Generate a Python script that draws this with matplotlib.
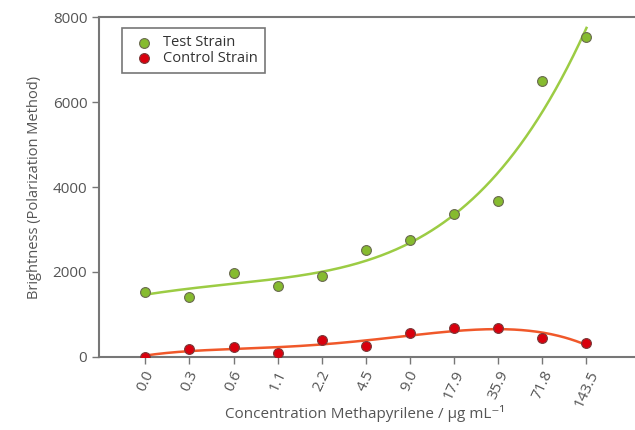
import numpy as np
import matplotlib
matplotlib.use('Agg')
import matplotlib.pyplot as plt

plt.rcParams['font.family'] = ['Open Sans', 'DejaVu Sans']

# concentrations (categorical axis)
conc_labels = ['0.0', '0.3', '0.6', '1.1', '2.2', '4.5', '9.0', '17.9', '35.9', '71.8', '143.5']
test_strain = [1530, 1410, 1980, 1670, 1900, 2520, 2750, 3360, 3670, 6490, 7530]
control_strain = [0, 190, 240, 90, 400, 260, 560, 680, 680, 450, 330]

x = np.arange(len(conc_labels))

# smooth trend lines (polynomial fit on index)
xs = np.linspace(0, len(conc_labels) - 1, 300)
test_fit = np.polyval(np.polyfit(x, test_strain, 4), xs)
ctrl_fit = np.polyval(np.polyfit(x, control_strain, 4), xs)

grey = '#555555'
fig = plt.figure(figsize=(6.35, 4.3), dpi=100)
ax = fig.add_axes([0.156, 0.17, 0.844, 0.79])

ax.plot(xs, test_fit, color='#9ccc44', lw=1.8, zorder=2)
ax.plot(xs, ctrl_fit, color='#f0582a', lw=1.8, zorder=2)
ax.scatter(x, test_strain, s=50, color='#86bb2f', edgecolors='#6a6a50', linewidths=0.8,
           zorder=3, label='Test Strain')
ax.scatter(x, control_strain, s=50, color='#d9000d', edgecolors='#7a3a3a', linewidths=0.8,
           zorder=3, label='Control Strain')

ax.set_xlim(-1.05, 11.1)
ax.set_ylim(0, 8000)
ax.set_yticks([0, 2000, 4000, 6000, 8000])
ax.set_xticks(x)
ax.set_xticklabels(conc_labels, rotation=65, ha='center', va='top')

for s in ['top', 'bottom', 'left']:
    ax.spines[s].set_color('#777777')
    ax.spines[s].set_linewidth(1.5)
ax.spines['right'].set_visible(False)
ax.tick_params(colors='#777777', labelcolor=grey, labelsize=11, direction='out', length=5, width=1)
ax.tick_params(axis='x', pad=3)

ax.set_ylabel('Brightness (Polarization Method)', color=grey, fontsize=10.5, labelpad=8)
fig.text(365 / 635, 1 - 413 / 430, 'Concentration Methapyrilene / µg mL⁻¹', color=grey,
         fontsize=11, ha='center', va='center')

leg = ax.legend(loc='upper left', bbox_to_anchor=(0.043, 0.968), frameon=True, fancybox=False,
                edgecolor='#555555', fontsize=10.5, handletextpad=0.3, borderpad=0.5,
                labelspacing=0.05, handlelength=2.0, labelcolor='#333333', borderaxespad=0)
leg.get_frame().set_linewidth(1.2)

fig.savefig('out.png', dpi=100)
